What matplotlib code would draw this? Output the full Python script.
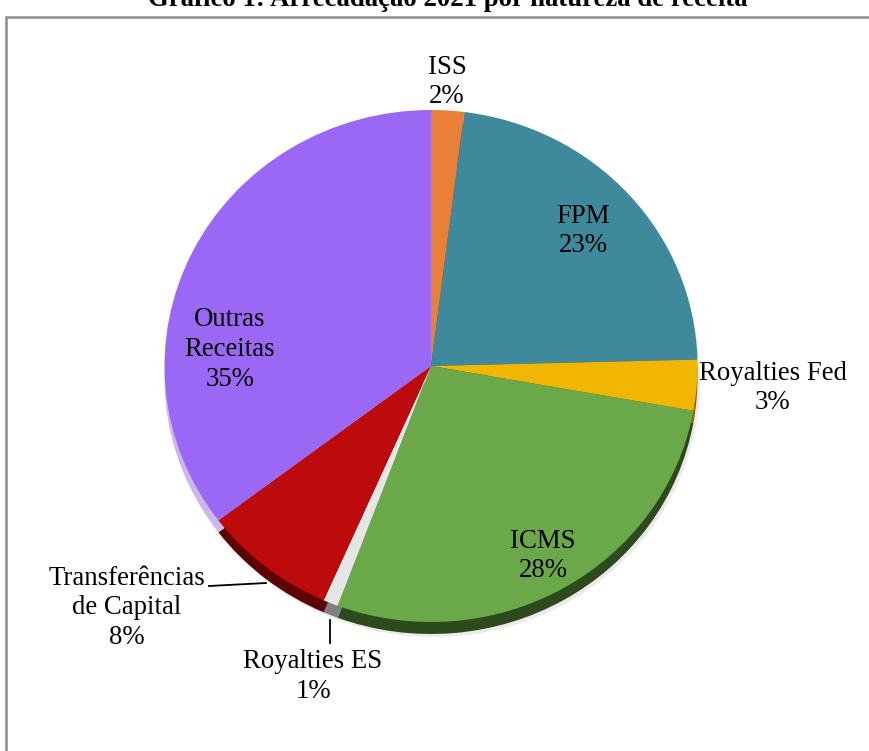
import numpy as np
import matplotlib.pyplot as plt
from matplotlib.patches import Rectangle

# data (share of 2021 revenue, %)
categories = ["ISS", "FPM", "Royalties Fed", "ICMS", "Royalties ES",
              "Transferências\nde Capital", "Outras\nReceitas"]
shares = [2.0, 22.6, 3.2, 27.9, 0.9, 8.1, 35.3]

colors = ["#E8803A", "#3E899C", "#F1B504", "#6BA84A", "#E6E6E6", "#BD0A0C", "#9A68F4"]
side_colors = ["#8A4A1E", "#1F4852", "#8A6602", "#2D4A1C", "#7F7F7F", "#5E0000", "#c9b8ee"]

# label placement (data units, pie radius = 1)
label_pos = [(0.06, 1.109), (0.57, 0.527), (1.283, -0.086), (0.42, -0.742),
             (-0.443, -1.213), (-1.141, -0.945), (-0.754, 0.064)]

W, H = 869, 751
cx, cy = 431, 366          # pie centre in pixels
rx, ry = 266.5, 256        # pixel radii
depth = 12 / ry

fig = plt.figure(figsize=(W / 100, H / 100), dpi=100)
ax = fig.add_axes([0, 0, 1, 1])

# soft shadow + side of the 3D pie
ax.pie(shares, colors=["#dedede"] * len(shares), startangle=90, counterclock=False,
       center=(0.01, -depth - 0.012), radius=1.0,
       wedgeprops=dict(linewidth=0, alpha=0.6))
ax.pie(shares, colors=side_colors, startangle=90, counterclock=False,
       center=(0, -depth), radius=1.0, wedgeprops=dict(linewidth=0))
ax.pie(shares, colors=colors, startangle=90, counterclock=False,
       center=(0, 0), radius=1.0, wedgeprops=dict(linewidth=0))

ax.set_aspect("auto")
ax.set_xlim(-cx / rx, (W - cx) / rx)
ax.set_ylim(-(H - cy) / ry, cy / ry)
ax.axis("off")

font = dict(family="Liberation Serif", size=19.3)
for name, val, (x, y) in zip(categories, shares, label_pos):
    ax.text(x, y, "%s\n%d%%" % (name, round(val)), ha="center", va="center",
            linespacing=1.25, **font)

# leader lines
ax.plot([(209 - cx) / rx, (266 - cx) / rx], [(cy - 586) / ry, (cy - 583) / ry],
        color="black", lw=1.3)
ax.plot([(330 - cx) / rx, (330 - cx) / rx], [(cy - 620) / ry, (cy - 643) / ry],
        color="black", lw=1.3)

# chart frame
fig.patches.append(Rectangle((6 / W, -0.05), 1.0, 1 - 17 / H + 0.05,
                             transform=fig.transFigure, fill=False,
                             edgecolor="#8c8c8c", lw=1.8))

fig.text(448 / W, 1 - 6 / H, "Gráfico 1: Arrecadação 2021 por natureza de receita",
         ha="center", va="baseline", family="Liberation Serif",
         weight="bold", size=19.3)

fig.savefig("out.png", dpi=100)
